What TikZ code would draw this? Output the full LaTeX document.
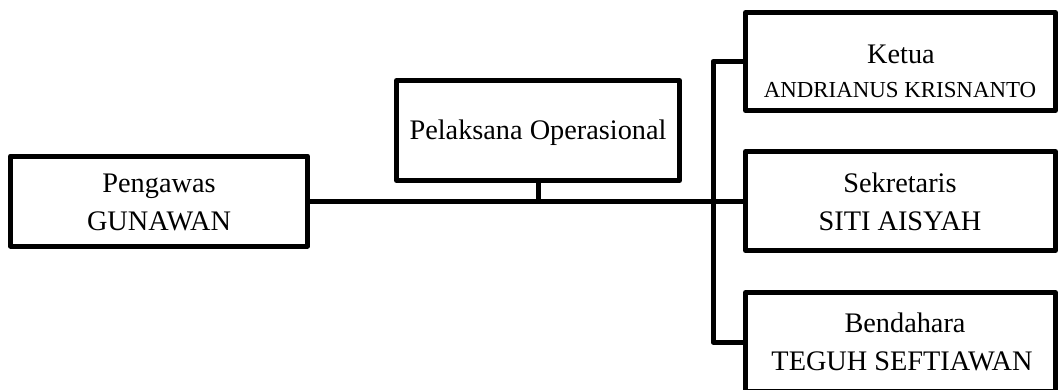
\documentclass[tikz,border=0pt]{standalone}
\usepackage{fontspec}
\setmainfont{Liberation Serif}
\begin{document}
\begin{tikzpicture}[x=1pt,y=-1pt,
  box/.style={draw,line width=5pt,line join=round,rectangle,inner sep=0pt},
  conn/.style={line width=5pt,line join=round},
  lbl/.style={anchor=base,inner sep=0pt,font=\fontsize{28.3}{33}\selectfont},
  smalllbl/.style={anchor=base,inner sep=0pt,font=\fontsize{22.9}{26}\selectfont}]
\useasboundingbox (0,0) rectangle (1060,389);
\clip (0,0) rectangle (1060,389);
\node[box,minimum width=297pt,minimum height=90pt] (peng) at (159,201) {};
\node[box,minimum width=283pt,minimum height=100pt] (pel) at (538,130.5) {};
\node[box,minimum width=310pt,minimum height=98pt] (ket) at (900.5,61.5) {};
\node[box,minimum width=310pt,minimum height=99pt] (sek) at (900.5,201) {};
\node[box,minimum width=310pt,minimum height=99pt] (ben) at (900.5,342) {};
\coordinate (bx) at (713,0);
\draw[conn] (peng.east) -- (sek.west);
\draw[conn] (pel.south) -- (pel.south |- peng.east);
\draw[conn] (ket.west) -- (ket.west -| bx) -- (ben.west -| bx) -- (ben.west);
\node[lbl] (pengA) at (159,192) {Pengawas};
\node[lbl] (pengB) at (159,230) {GUNAWAN};
\node[lbl] (pelA) at (538,139) {Pelaksana Operasional};
\node[lbl] (ketA) at (901,63) {Ketua};
\node[smalllbl] (ketB) at (900,97) {ANDRIANUS KRISNANTO};
\node[lbl] (sekA) at (900,192) {Sekretaris};
\node[lbl] (sekB) at (900,230) {SITI AISYAH};
\node[lbl] (benA) at (905,332) {Bendahara};
\node[lbl] (benB) at (902,370) {TEGUH SEFTIAWAN};
\end{tikzpicture}
\end{document}
